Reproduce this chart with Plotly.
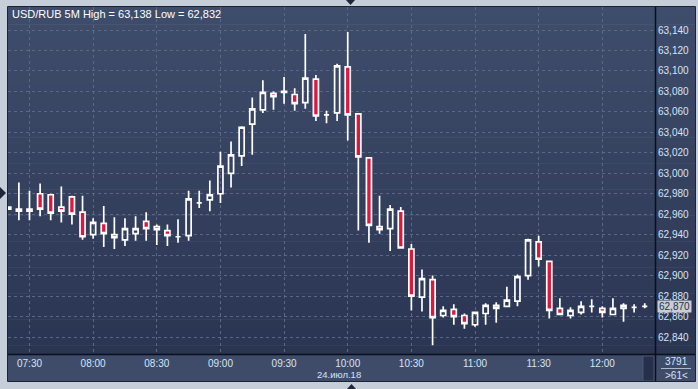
import plotly.graph_objects as go

# ---------------- data ----------------
times = ["07:20", "07:25", "07:30", "07:35", "07:40", "07:45", "07:50", "07:55",
         "08:00", "08:05", "08:10", "08:15", "08:20", "08:25", "08:30", "08:35",
         "08:40", "08:45", "08:50", "08:55", "09:00", "09:05", "09:10", "09:15",
         "09:20", "09:25", "09:30", "09:35", "09:40", "09:45", "09:50", "09:55",
         "10:00", "10:05", "10:10", "10:15", "10:20", "10:25", "10:30", "10:35",
         "10:40", "10:45", "10:50", "10:55", "11:00", "11:05", "11:10", "11:15",
         "11:20", "11:25", "11:30", "11:35", "11:40", "11:45", "11:50", "11:55",
         "12:00", "12:05", "12:10", "12:15", "12:20"]
opens = [62.967, 62.963, 62.963, 62.980, 62.979, 62.967, 62.977, 62.962, 62.940, 62.951,
         62.940, 62.935, 62.941, 62.953, 62.948, 62.944, 62.938, 62.939, 62.971, 62.974,
         62.980, 63.000, 63.017, 63.048, 63.062, 63.078, 63.079, 63.077, 63.069, 63.092,
         63.057, 63.059, 63.104, 63.058, 63.015, 62.948, 62.946, 62.963, 62.926, 62.879,
         62.896, 62.861, 62.867, 62.861, 62.852, 62.863, 62.871, 62.870, 62.875, 62.900,
         62.933, 62.914, 62.868, 62.861, 62.864, 62.870, 62.868, 62.862, 62.868, 62.869,
         62.870]
highs = [62.967, 62.991, 62.983, 62.990, 62.980, 62.987, 62.978, 62.978, 62.956, 62.968,
         62.957, 62.956, 62.958, 62.962, 62.950, 62.950, 62.955, 62.983, 62.983, 62.993,
         63.021, 63.031, 63.046, 63.074, 63.091, 63.080, 63.094, 63.083, 63.136, 63.096,
         63.061, 63.107, 63.138, 63.058, 63.016, 62.978, 62.969, 62.967, 62.931, 62.906,
         62.900, 62.870, 62.872, 62.863, 62.865, 62.873, 62.874, 62.889, 62.901, 62.936,
         62.939, 62.914, 62.878, 62.869, 62.875, 62.877, 62.870, 62.878, 62.873, 62.872,
         62.873]
lows = [62.965, 62.954, 62.954, 62.958, 62.954, 62.952, 62.950, 62.935, 62.936, 62.928,
        62.926, 62.929, 62.934, 62.934, 62.930, 62.929, 62.932, 62.934, 62.966, 62.963,
        62.971, 62.986, 63.007, 63.018, 63.059, 63.062, 63.068, 63.061, 63.063, 63.051,
        63.049, 63.051, 63.032, 62.944, 62.932, 62.941, 62.924, 62.927, 62.866, 62.865,
        62.832, 62.859, 62.852, 62.848, 62.850, 62.852, 62.854, 62.870, 62.870, 62.896,
        62.909, 62.858, 62.862, 62.858, 62.862, 62.864, 62.859, 62.862, 62.855, 62.864,
        62.868]
closes = [62.965, 62.965, 62.965, 62.965, 62.961, 62.963, 62.960, 62.938, 62.952, 62.941,
          62.937, 62.946, 62.946, 62.946, 62.945, 62.939, 62.938, 62.975, 62.971, 62.979,
          63.007, 63.018, 63.045, 63.063, 63.079, 63.075, 63.080, 63.068, 63.093, 63.056,
          63.057, 63.105, 63.057, 63.016, 62.949, 62.945, 62.965, 62.927, 62.880, 62.897,
          62.859, 62.866, 62.860, 62.853, 62.864, 62.871, 62.868, 62.876, 62.899, 62.935,
          62.916, 62.866, 62.862, 62.866, 62.870, 62.870, 62.864, 62.868, 62.871, 62.869,
          62.870]
x_tick_labels = ["07:30", "08:00", "08:30", "09:00", "09:30", "10:00", "10:30", "11:00", "11:30", "12:00"]
y_tick_values = [62.84, 62.86, 62.88, 62.90, 62.92, 62.94, 62.96, 62.98,
                 63.00, 63.02, 63.04, 63.06, 63.08, 63.10, 63.12, 63.14]
title_text = "USD/RUB 5M High = 63,138 Low = 62,832"
date_label = "24.июл.18"
last_price = 62.870
last_price_label = "62,870"
corner_top = "3791"
corner_bottom = ">61<"

DAY = "2018-07-24 "
xs = [DAY + t for t in times]

# ---------------- geometry helpers (pixels -> paper) ----------------
W, H = 698, 389
L, R, T, B = 8, 655, 7, 354
def px(x):
    return (x - L) / (R - L)
def py(y):
    return (B - y) / (B - T)

FONT = "Liberation Sans, Arial, sans-serif"
LABEL = "#D6E4F6"

fig = go.Figure()
fig.add_trace(go.Candlestick(
    x=xs, open=opens, high=highs, low=lows, close=closes,
    increasing=dict(line=dict(color="#FFFFFF", width=1.7), fillcolor="rgba(0,0,0,0)"),
    decreasing=dict(line=dict(color="#FFFFFF", width=1.7), fillcolor="#E0173D"),
    whiskerwidth=0, hoverinfo="skip", showlegend=False,
))

shapes = []
# background gradient of chart panel
top_c = (0x3F, 0x4D, 0x6C)
bot_c = (0x2A, 0x35, 0x52)
N = 40
for i in range(N):
    y0 = T + (B - T) * i / N
    y1 = T + (B - T) * (i + 1) / N
    f = (i + 0.5) / N
    c = tuple(int(round(top_c[k] + (bot_c[k] - top_c[k]) * f)) for k in range(3))
    shapes.append(dict(type="rect", xref="paper", yref="paper", layer="below",
                       x0=px(L), x1=px(695), y0=py(y1 + 0.5), y1=py(y0),
                       fillcolor="rgb(%d,%d,%d)" % c, line=dict(width=0)))
# bottom axis strip
shapes.append(dict(type="rect", xref="paper", yref="paper", layer="below",
                   x0=px(L), x1=px(695), y0=py(381), y1=py(B),
                   fillcolor="#3E4C69", line=dict(width=0)))
# scroll block
shapes.append(dict(type="rect", xref="paper", yref="paper", layer="above",
                   x0=px(643), x1=px(654), y0=py(381), y1=py(356),
                   fillcolor="#26304A", line=dict(color="#4A5775", width=1)))
# corner divider line
shapes.append(dict(type="line", xref="paper", yref="paper", layer="above",
                   x0=px(661), x1=px(691), y0=py(368.5), y1=py(368.5),
                   line=dict(color="#AEB8C8", width=1)))
# frame
shapes.append(dict(type="rect", xref="paper", yref="paper", layer="above",
                   x0=px(7.5), x1=px(695.5), y0=py(381.5), y1=py(6.5),
                   line=dict(color="#1C2333", width=1)))
# axis separator lines
shapes.append(dict(type="line", xref="paper", yref="paper", layer="above",
                   x0=px(655.5), x1=px(655.5), y0=py(381), y1=py(T),
                   line=dict(color="#0B0F18", width=1.5)))
shapes.append(dict(type="line", xref="paper", yref="paper", layer="above",
                   x0=px(L), x1=px(695), y0=py(354.5), y1=py(354.5),
                   line=dict(color="#0B0F18", width=1.5)))
# small navigation triangles
def tri(points):
    p = "M " + " L ".join("%f,%f" % (px(a), py(b)) for a, b in points) + " Z"
    return dict(type="path", xref="paper", yref="paper", layer="above", path=p,
                fillcolor="#1E2638", line=dict(width=0))
shapes.append(tri([(346, 0), (355, 0), (350.5, 5)]))
shapes.append(tri([(347, 389), (356, 389), (351.5, 384)]))
shapes.append(tri([(0, 187), (0, 199), (6, 193)]))

annotations = [
    dict(text=title_text, xref="paper", yref="paper", x=px(10), y=py(14),
         xanchor="left", yanchor="middle", showarrow=False,
         font=dict(size=11, color="#FFFFFF", family=FONT)),
    dict(text=date_label, xref="paper", yref="paper", x=px(339), y=py(374.5),
         xanchor="center", yanchor="middle", showarrow=False,
         font=dict(size=9.5, color=LABEL, family=FONT)),
    dict(text=last_price_label, xref="paper", yref="y", x=px(657), y=last_price,
         xanchor="left", yanchor="middle", showarrow=False, bgcolor="#C8CDD4",
         width=33, height=11, borderpad=0,
         font=dict(size=10, color="#26314C", family=FONT)),
    dict(text=corner_top, xref="paper", yref="paper", x=px(676), y=py(361.5),
         xanchor="center", yanchor="middle", showarrow=False,
         font=dict(size=10, color=LABEL, family=FONT)),
    dict(text=corner_bottom, xref="paper", yref="paper", x=px(676), y=py(375.5),
         xanchor="center", yanchor="middle", showarrow=False,
         font=dict(size=10, color=LABEL, family=FONT)),
]

tickvals = [DAY + t for t in x_tick_labels]

fig.update_layout(
    width=W, height=H,
    margin=dict(l=L, r=W - R, t=T, b=H - B),
    paper_bgcolor="#C5CED9",
    plot_bgcolor="rgba(0,0,0,0)",
    separators=", ",
    boxgap=0.32,
    shapes=shapes,
    annotations=annotations,
    font=dict(family=FONT, size=10, color=LABEL),
    xaxis=dict(
        type="date",
        range=["2018-07-24 07:19:52", "2018-07-24 12:24:50"],
        rangeslider=dict(visible=False),
        tickmode="array", tickvals=tickvals, ticktext=x_tick_labels,
        showgrid=True, gridcolor="#5A6885", griddash="3px,3px", gridwidth=1,
        zeroline=False, showline=False, ticks="", ticklabelstandoff=2,
        tickfont=dict(size=10, color=LABEL),
    ),
    yaxis=dict(
        side="right",
        range=[62.8234, 63.1625],
        tickmode="array", tickvals=y_tick_values, tickformat=".3f",
        showgrid=True, gridcolor="#5A6885", griddash="3px,3px", gridwidth=1,
        zeroline=False, showline=False, ticks="", ticklabelstandoff=2,
        tickfont=dict(size=10, color=LABEL),
    ),
)

fig.write_html("out.html")
